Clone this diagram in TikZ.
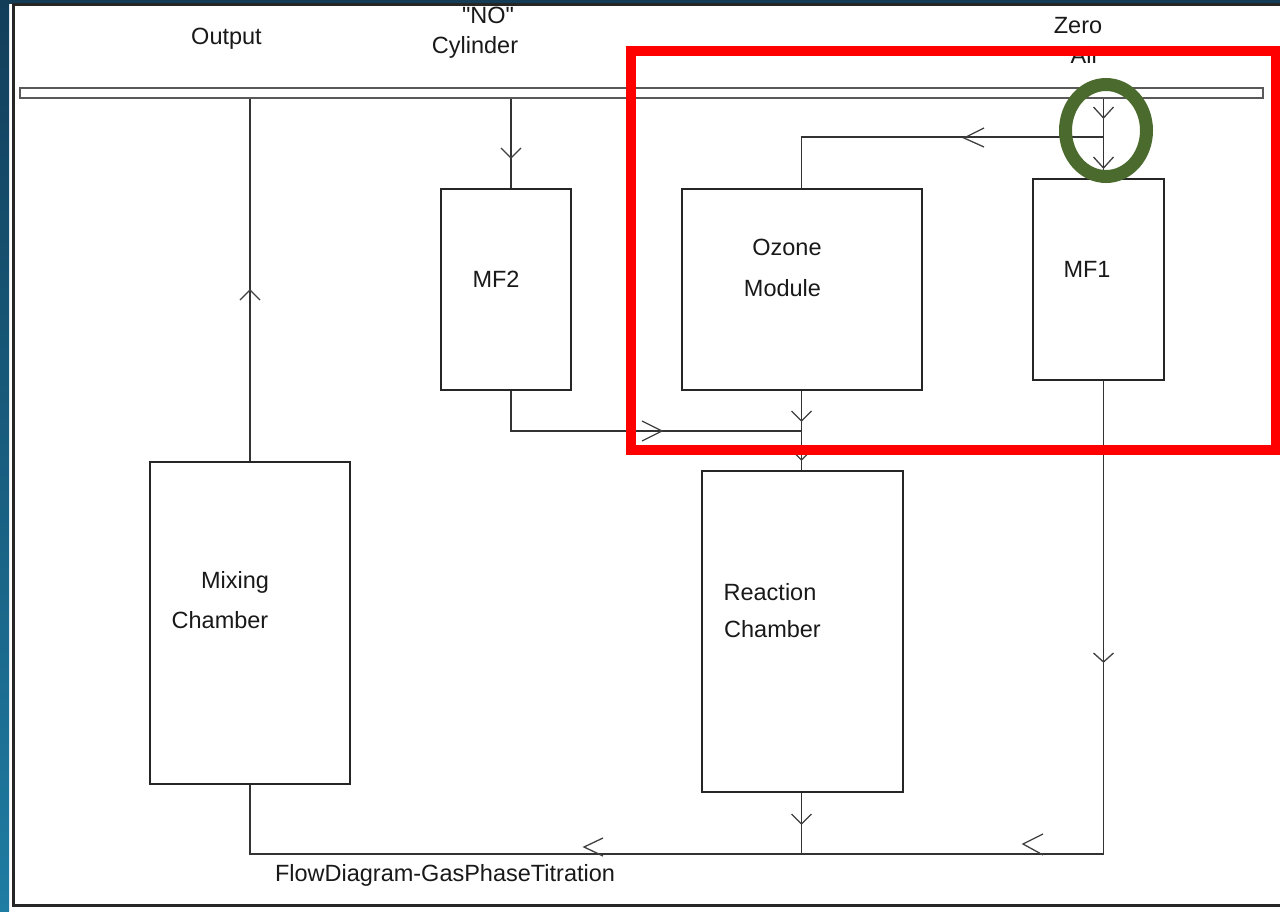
\documentclass[tikz,border=0pt]{standalone}
\usepackage{fontspec}
\setmainfont{Liberation Sans}[Ligatures=TeXOff]
\begin{document}
\begin{tikzpicture}[x=1pt,y=-1pt,
  box/.style={draw=black!85, line width=1.3pt, inner sep=0pt, fill=white},
  flow/.style={draw=black!80, line width=1.3pt},
  tipv/.style={draw=black!75, line width=1.3pt},
  lbl/.style={font=\fontsize{23.5}{28}\selectfont, text=black!90, inner sep=0pt, anchor=base}]
\useasboundingbox (0,0) rectangle (1280,911);
% background frame
\fill[white] (0,0) rectangle (1280,911);
\fill[fill={rgb,255:red,20;green,60;blue,85}] (0,0) rectangle (1280,3.5);
\shade[top color={rgb,255:red,18;green,62;blue,90}, bottom color={rgb,255:red,31;green,124;blue,163}] (0,0) rectangle (9,911);
\draw[black!85, line width=2.5pt] (1280,4.5) -- (13.5,4.5) -- (13.5,905.5) -- (1280,905.5);

% bus bar
\node[draw=black!65, line width=1.5pt, minimum width=1243, minimum height=10, inner sep=0pt] (bus) at (641.5,93) {};

% boxes
\node[box, minimum width=200, minimum height=322] (mix) at (250,623) {};
\node[box, minimum width=130, minimum height=201] (mf2) at (506,289.5) {};
\node[box, minimum width=240, minimum height=201] (ozone) at (802,289.5) {};
\node[box, minimum width=201, minimum height=321] (react) at (802.5,631.5) {};
\node[box, minimum width=131, minimum height=201] (mf1) at (1098.5,279.5) {};

% guide coordinates
\coordinate (xno) at (511,0);
\coordinate (xoz) at (801.5,0);
\coordinate (xair) at (1103.5,0);
\coordinate (br) at (1103.5,137);
\coordinate (j1) at (801.5,431);
\coordinate (bot) at (0,854);

% connectors
\draw[flow] (bus.south -| mix.north) -- (mix.north);
\draw[flow] (bus.south -| xno) -- (mf2.north -| xno);
\draw[flow] (bus.south -| xair) -- (mf1.north -| xair);
\draw[flow] (br) -| (ozone.north -| xoz);
\draw[flow] (mf2.south -| xno) |- (j1);
\draw[flow] (ozone.south -| xoz) -- (react.north -| xoz);
\draw[flow] (react.south -| xoz) -- (xoz |- bot);
\draw[flow] (mf1.south -| xair) -- (xair |- bot) -- (mix.south |- bot) -- (mix.south);

% arrow marks
\draw[tipv] (240,300) -- (250,290) -- (260,300);
\draw[tipv] (501,148) -- (511,158) -- (521,148);
\draw[tipv] (1093.5,107) -- (1103.5,118) -- (1113.5,107);
\draw[tipv] (1093.5,157) -- (1103.5,168) -- (1113.5,157);
\draw[tipv] (984,128) -- (964,138) -- (984,147);
\draw[tipv] (642,421) -- (662,431) -- (642,441);
\draw[tipv] (791.5,411) -- (801.5,421) -- (811.5,411);
\draw[tipv] (791.5,450) -- (801.5,460) -- (811.5,450);
\draw[tipv] (791.5,814) -- (801.5,824) -- (811.5,814);
\draw[tipv] (1093.5,653) -- (1103.5,662) -- (1113.5,653);
\draw[tipv] (1043,834) -- (1023,844) -- (1043,855);
\draw[tipv] (603,838) -- (584,847) -- (603,856);

% labels
\node[lbl] (tout) at (226.5,44) {Output};
\node[lbl] (tno) at (488,23) {"NO"};
\node[lbl] (tcyl) at (475,53) {Cylinder};
\node[lbl] (tzero) at (1078,33) {Zero};
\node[lbl] (tair) at (1085,63) {Air};
\node[lbl] (tmf2) at (496,287) {MF2};
\node[lbl] (tmf1) at (1087,277) {MF1};
\node[lbl] (toz1) at (787,255) {Ozone};
\node[lbl] (toz2) at (782.5,296) {Module};
\node[lbl] (tmix1) at (235,588) {Mixing};
\node[lbl] (tmix2) at (220,628) {Chamber};
\node[lbl] (tre1) at (770,600) {Reaction};
\node[lbl] (tre2) at (772.5,637) {Chamber};
\node[lbl] (tcap) at (445,881) {FlowDiagram-GasPhaseTitration};

% highlights
\draw[red, line width=10pt] (630.5,50.5) rectangle (1276,450);
\draw[draw={rgb,255:red,75;green,107;blue,46}, line width=13pt] (1106,130.5) ellipse [x radius=40.5, y radius=46];
\end{tikzpicture}
\end{document}
